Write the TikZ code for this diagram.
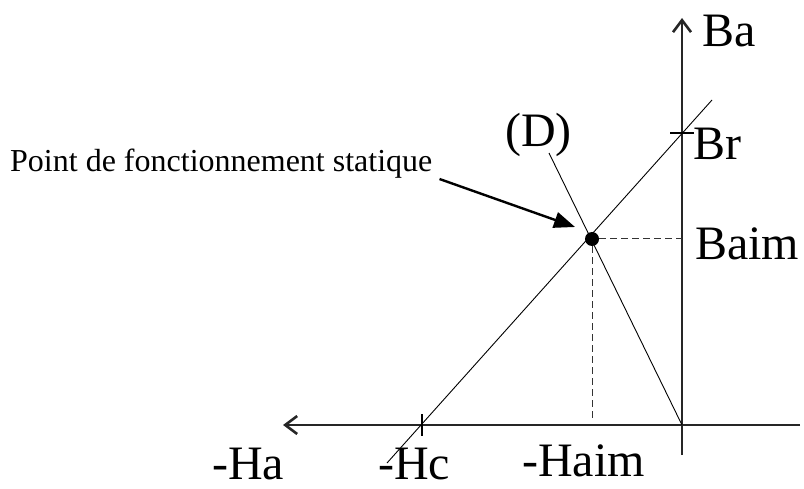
\documentclass[tikz,border=0pt]{standalone}
\usepackage{fontspec}
\setmainfont{Liberation Serif}
\usetikzlibrary{positioning,calc}
\usetikzlibrary{arrows.meta}
\tikzset{
  axe/.style={draw=black!85,line width=1.3pt,-{Straight Barb[length=12pt,width=18pt,line width=2.6pt]}},
  droite/.style={draw=black,line width=0.9pt},
  pointille/.style={draw=black!80,line width=1pt,dash pattern=on 7pt off 4pt},
  repere/.style={draw=black,line width=1.5pt},
  fleche/.style={draw=black,line width=2.4pt,-{Triangle[length=21pt,width=16pt]}},
  lab/.style={inner sep=0pt,anchor=base west,font=\fontsize{48}{50}\selectfont},
  note/.style={inner sep=0pt,anchor=base west,font=\fontsize{32}{34}\selectfont},
  ptfonct/.style={circle,fill=black,inner sep=0pt,minimum size=14pt},
}

\begin{document}
\begin{tikzpicture}[x=1pt,y=-1pt]
\useasboundingbox (0,0) rectangle (804,489);
% axes
\coordinate (O) at (682,425);
\coordinate (Bhaut) at (682,18);
\coordinate (Bbas) at (682,455);
\coordinate (Hgauche) at (283,425);
\coordinate (Hdroite) at (800,425);
\draw[axe] (Bbas) -- (Bhaut);
\draw[axe] (Hdroite) -- (Hgauche);
% droites
\coordinate (Br) at (682,133);
\coordinate (Hc) at (422,425);
\coordinate (diagbas) at (387,463);
\coordinate (diaghaut) at (712,100);
\coordinate (Dhaut) at (549,153);
\draw[droite] (diagbas) -- (diaghaut);
\draw[droite] (Dhaut) -- (O);
\draw[repere] ([xshift=-12pt]Br) -- ([xshift=12pt]Br);
\draw[repere] ([yshift=11pt]Hc) -- ([yshift=-11pt]Hc);
% point de fonctionnement
\node[ptfonct] (P) at (592,239) {};
\draw[pointille] (P) -- (P -| O);
\draw[pointille,shorten >=5pt] (P) -- (P |- O);
% textes
\node[lab] (ba) at (702,47) {Ba};
\node[lab] (br) at (693,160) {Br};
\node[lab] (baim) at (695,260) {Baim};
\node[lab] (d) at (505,147) {(D)};
\node[lab] (ha) at (212,479) {-Ha};
\node[lab] (hc) at (378,479) {-Hc};
\node[lab] (haim) at (522,476) {-Haim};
\node[note] (pfs) at (10,172) {Point de fonctionnement statique};
\draw[fleche] ([xshift=7pt]pfs.south east) -- ($(P)+(-17,-12)$);
\end{tikzpicture}
\end{document}
